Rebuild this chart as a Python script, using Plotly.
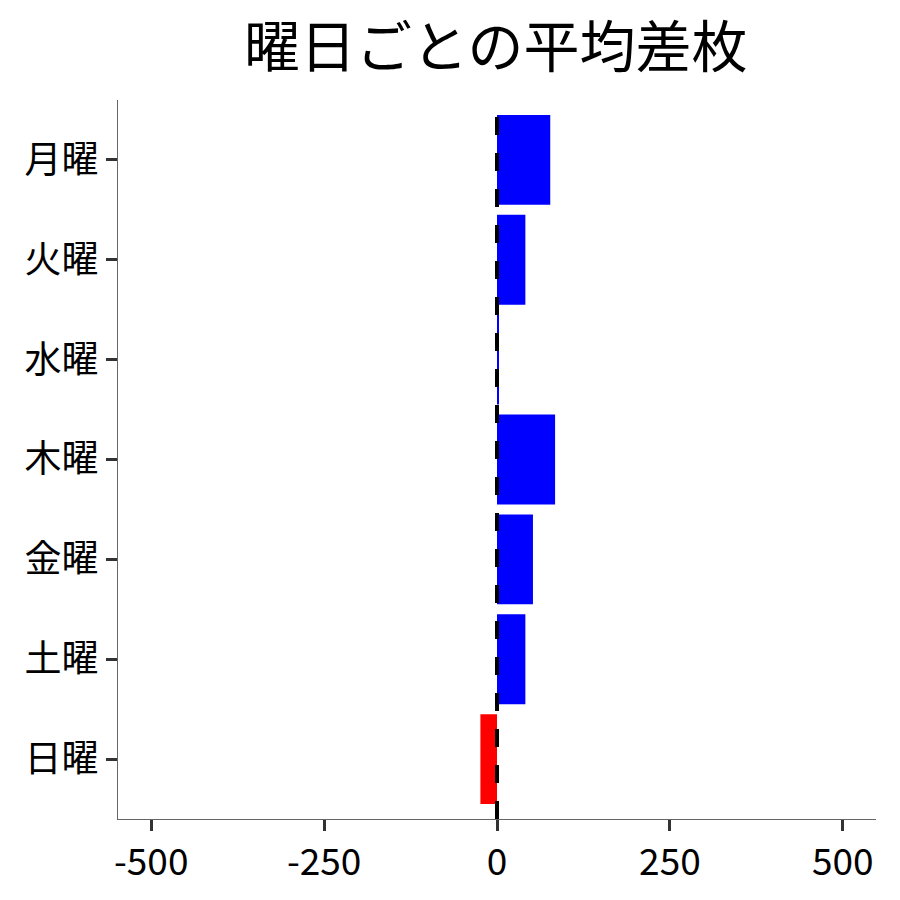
import plotly.graph_objects as go

days = ["月曜", "火曜", "水曜", "木曜", "金曜", "土曜", "日曜"]
values = [77, 41, 2, 84, 52, 41, -24]
colors = ["blue" if v >= 0 else "red" for v in values]

fig = go.Figure()
fig.add_trace(go.Bar(x=values, y=days, orientation="h", marker=dict(color=colors, line=dict(width=0)),
                     width=0.9))
fig.add_vline(x=0, line=dict(color="black", width=4, dash="18px,18px"))

font = "Noto Sans CJK JP"
fig.update_layout(
    width=900, height=900,
    margin=dict(l=110, r=32, t=92, b=89),
    plot_bgcolor="white", paper_bgcolor="white",
    showlegend=False,
    title=dict(text="曜日ごとの平均差枚", x=0.542, xanchor="center", y=0.956, yanchor="middle",
               font=dict(family=font, size=56, color="black")),
    font=dict(family=font, color="black"),
)
fig.update_xaxes(range=[-548, 548], tickvals=[-500, -250, 0, 250, 500], ticktext=["-500", "-250", "0", "250", "500"],
                 showgrid=False, zeroline=False, showline=True, linecolor="#666", linewidth=1,
                 ticks="outside", ticklen=11, tickwidth=3, tickcolor="#333", automargin=False,
                 tickfont=dict(family=font, size=37, color="black"))
fig.update_yaxes(categoryorder="array", categoryarray=days, autorange=False, range=[6.6, -0.6],
                 showgrid=False, zeroline=False, showline=True, linecolor="#666", linewidth=1,
                 ticks="outside", ticklen=11, tickwidth=3, tickcolor="#333", automargin=False,
                 tickfont=dict(family=font, size=37, color="black"))
fig.write_html("out.html")
